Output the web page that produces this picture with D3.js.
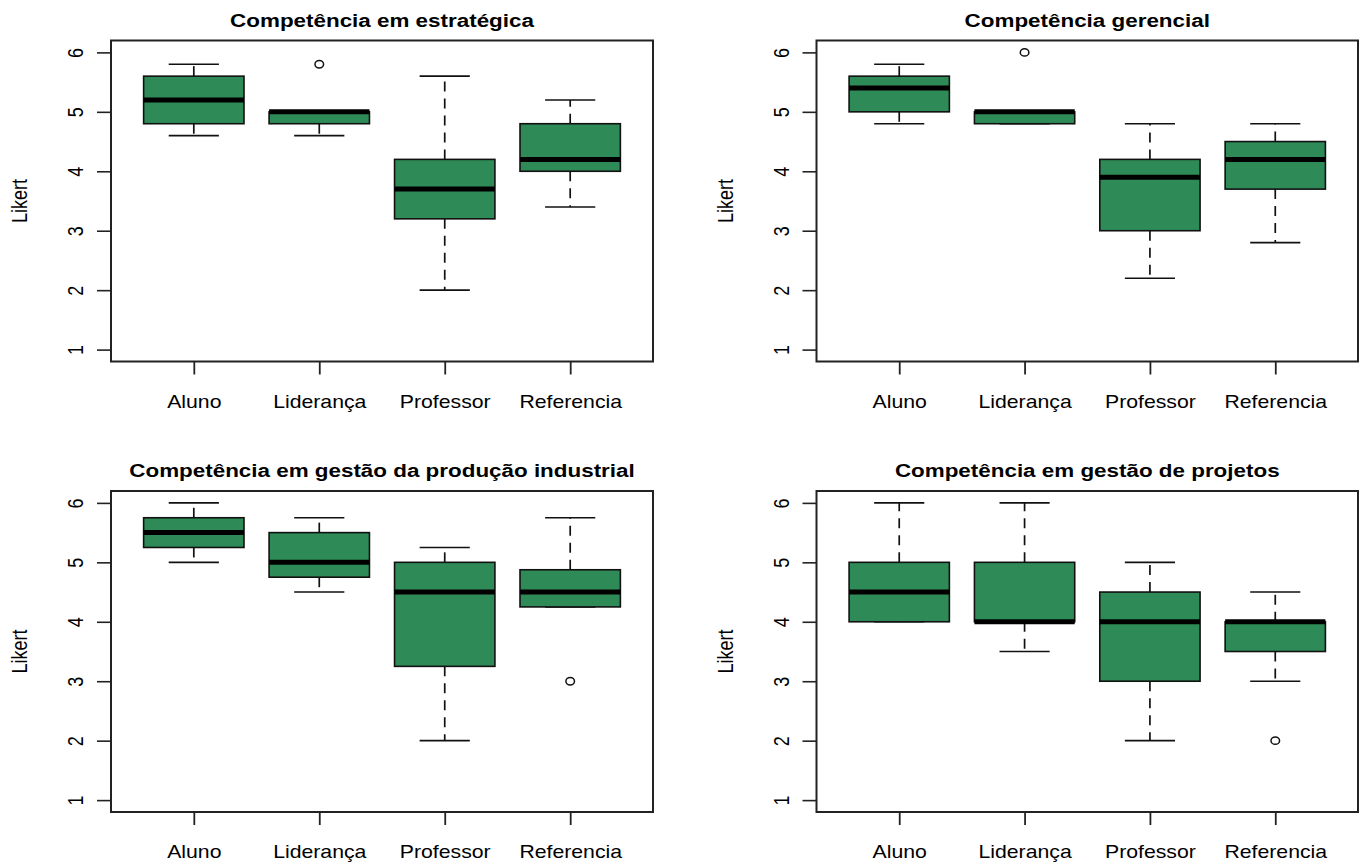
<!DOCTYPE html>
<html>
<head>
<meta charset="utf-8">
<script src="https://cdn.jsdelivr.net/npm/d3@7"></script>
<style>
  html, body { margin: 0; padding: 0; background: #fff; }
  svg { display: block; }
  text { font-family: "Liberation Sans", Arial, sans-serif; fill: #000; }
</style>
</head>
<body>
<svg id="chart" width="1360" height="862"></svg>
<script>
// Groups on the x axis
const categories = ["Aluno", "Liderança", "Professor", "Referencia"];
const yTicks = [1, 2, 3, 4, 5, 6];

const titles = [
  "Competência em estratégica",
  "Competência gerencial",
  "Competência em gestão da produção industrial",
  "Competência em gestão de projetos"
];

// Box statistics per group: [lower whisker, Q1, median, Q3, upper whisker]
const estrategica = [[4.6, 4.8, 5.2, 5.6, 5.8], [4.6, 4.8, 5.0, 5.0, 5.0], [2.0, 3.2, 3.7, 4.2, 5.6], [3.4, 4.0, 4.2, 4.8, 5.2]];
const estrategicaOut = [[], [5.8], [], []];

const gerencial = [[4.8, 5.0, 5.4, 5.6, 5.8], [4.8, 4.8, 5.0, 5.0, 5.0], [2.2, 3.0, 3.9, 4.2, 4.8], [2.8, 3.7, 4.2, 4.5, 4.8]];
const gerencialOut = [[], [6.0], [], []];

const producao = [[5.0, 5.25, 5.5, 5.75, 6.0], [4.5, 4.75, 5.0, 5.5, 5.75], [2.0, 3.25, 4.5, 5.0, 5.25], [4.25, 4.25, 4.5, 4.875, 5.75]];
const producaoOut = [[], [], [], [3.0]];

const projetos = [[4.0, 4.0, 4.5, 5.0, 6.0], [3.5, 4.0, 4.0, 5.0, 6.0], [2.0, 3.0, 4.0, 4.5, 5.0], [3.0, 3.5, 4.0, 4.0, 4.5]];
const projetosOut = [[], [], [], [2.0]];

const panels = [
  { title: titles[0], stats: estrategica, out: estrategicaOut, x0: 111, x1: 653, y0: 40.5, y1: 361.5 },
  { title: titles[1], stats: gerencial, out: gerencialOut, x0: 816.5, x1: 1358, y0: 40.5, y1: 361.5 },
  { title: titles[2], stats: producao, out: producaoOut, x0: 111, x1: 653, y0: 491, y1: 812 },
  { title: titles[3], stats: projetos, out: projetosOut, x0: 816.5, x1: 1358, y0: 491, y1: 812 }
];

const SX = 1.18;          // horizontal stretch of the lettering
const boxColor = "#2E8B57";
const ink = "#111";

const svg = d3.select("#chart");

panels.forEach(p => {
  const g = svg.append("g");

  const x = d3.scalePoint().domain(categories).range([p.x0, p.x1]).padding(0.66);
  const y = d3.scaleLinear().domain([0.8, 6.2]).range([p.y1, p.y0]);
  const step = x.step();
  const boxW = step * 0.8;
  const stapleW = boxW * 0.5;

  // title
  g.append("g")
    .attr("transform", `translate(${(p.x0 + p.x1) / 2},${p.y0 - 14}) scale(${SX},1)`)
    .append("text")
    .attr("text-anchor", "middle")
    .attr("font-size", 19)
    .attr("font-weight", "bold")
    .text(p.title);

  // y axis
  const yAxis = g.append("g")
    .attr("transform", `translate(${p.x0},0)`)
    .call(d3.axisLeft(y).tickValues(yTicks).tickSize(14).tickFormat(d3.format("d")));
  yAxis.select(".domain").remove();
  yAxis.selectAll(".tick line").attr("stroke", "#222").attr("stroke-width", 1.6);
  yAxis.selectAll(".tick text")
    .attr("x", null).attr("dy", null)
    .attr("font-size", 18)
    .attr("text-anchor", "middle")
    .attr("transform", `translate(-28,0) scale(${SX},1) rotate(-90)`);

  // x axis
  const xAxis = g.append("g")
    .attr("transform", `translate(0,${p.y1})`)
    .call(d3.axisBottom(x).tickSize(13));
  xAxis.select(".domain").remove();
  xAxis.selectAll(".tick line").attr("stroke", "#222").attr("stroke-width", 1.8);
  xAxis.selectAll(".tick text")
    .attr("y", null).attr("dy", null)
    .attr("font-size", 18)
    .attr("text-anchor", "middle")
    .attr("transform", `translate(0,46) scale(${SX},1)`);

  // y axis title
  g.append("g")
    .attr("transform", `translate(${p.x0 - 84},${(p.y0 + p.y1) / 2}) scale(${SX},1) rotate(-90)`)
    .append("text")
    .attr("text-anchor", "middle")
    .attr("font-size", 18)
    .text("Likert");

  // boxes
  const groups = g.selectAll(".bx")
    .data(p.stats.map((s, i) => ({ cat: categories[i], s, out: p.out[i] })))
    .join("g").attr("class", "bx");

  // dashed whiskers
  groups.append("line")
    .attr("x1", d => x(d.cat)).attr("x2", d => x(d.cat))
    .attr("y1", d => y(d.s[3])).attr("y2", d => y(d.s[4]))
    .attr("stroke", ink).attr("stroke-width", 1.7).attr("stroke-dasharray", "10,7");
  groups.append("line")
    .attr("x1", d => x(d.cat)).attr("x2", d => x(d.cat))
    .attr("y1", d => y(d.s[1])).attr("y2", d => y(d.s[0]))
    .attr("stroke", ink).attr("stroke-width", 1.7).attr("stroke-dasharray", "10,7");

  // staples
  [0, 4].forEach(k => {
    groups.append("line")
      .attr("x1", d => x(d.cat) - stapleW / 2).attr("x2", d => x(d.cat) + stapleW / 2)
      .attr("y1", d => y(d.s[k])).attr("y2", d => y(d.s[k]))
      .attr("stroke", ink).attr("stroke-width", 1.6);
  });

  // box body
  groups.append("rect")
    .attr("x", d => x(d.cat) - boxW / 2)
    .attr("width", boxW)
    .attr("y", d => y(d.s[3]))
    .attr("height", d => Math.max(0.5, y(d.s[1]) - y(d.s[3])))
    .attr("fill", boxColor)
    .attr("stroke", ink).attr("stroke-width", 1.6);

  // median
  groups.append("line")
    .attr("x1", d => x(d.cat) - boxW / 2).attr("x2", d => x(d.cat) + boxW / 2)
    .attr("y1", d => y(d.s[2])).attr("y2", d => y(d.s[2]))
    .attr("stroke", "#000").attr("stroke-width", 5);

  // outliers
  groups.selectAll("ellipse")
    .data(d => d.out.map(v => ({ cat: d.cat, v })))
    .join("ellipse")
    .attr("cx", d => x(d.cat)).attr("cy", d => y(d.v))
    .attr("rx", 4.3).attr("ry", 3.7)
    .attr("fill", "none").attr("stroke", ink).attr("stroke-width", 1.5);

  // plot frame
  g.append("rect")
    .attr("x", p.x0).attr("y", p.y0)
    .attr("width", p.x1 - p.x0).attr("height", p.y1 - p.y0)
    .attr("fill", "none").attr("stroke", "#222").attr("stroke-width", 2);
});
</script>
</body>
</html>
